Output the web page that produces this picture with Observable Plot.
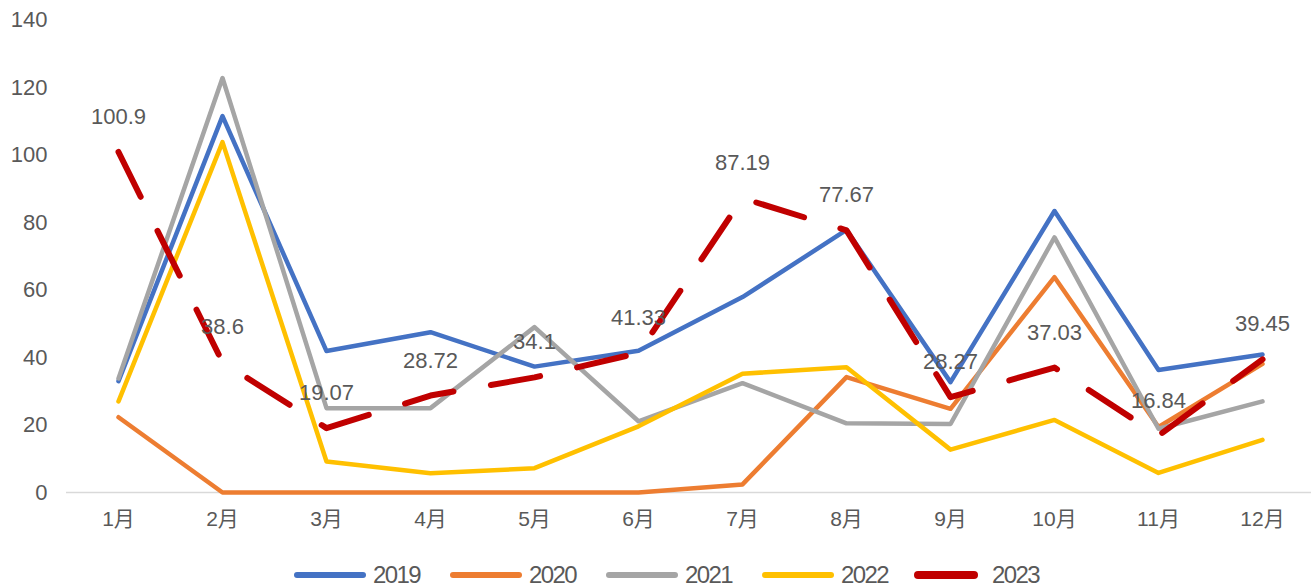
<!DOCTYPE html>
<html>
<head>
<meta charset="utf-8">
<script src="https://cdn.jsdelivr.net/npm/d3@7"></script>
<script src="https://cdn.jsdelivr.net/npm/@observablehq/plot@0.6"></script>
<style>
  html, body { margin: 0; padding: 0; background: #fff; }
  #wrap { position: relative; width: 1311px; height: 586px; font-family: "Liberation Sans", "Noto Sans CJK SC", sans-serif; }
  #legend { position: absolute; left: 294px; top: 561px; height: 28px; display: flex; align-items: center; }
  .item { display: flex; align-items: center; width: 156px; }
  .sw { width: 72px; height: 6px; border-radius: 3px; margin-right: 7px; flex: none; }
  .lt { font-family: "Liberation Sans", sans-serif; font-size: 24px; letter-spacing: -1.6px; color: #595959; line-height: 24px; white-space: nowrap; }
</style>
</head>
<body>
<div id="wrap"><div id="chart"></div><div id="legend"></div></div>
<script>
const months = ["1月","2月","3月","4月","5月","6月","7月","8月","9月","10月","11月","12月"];
const years = ["2019","2020","2021","2022","2023"];
const colors = ["#4472C4","#ED7D31","#A5A5A5","#FFC000","#C00000"];
const v2019 = [33, 111.5, 41.9, 47.5, 37.3, 42, 57.9, 77.8, 32.7, 83.4, 36.3, 40.9];
const v2020 = [22.3, 0, 0, 0, 0, 0, 2.4, 34.2, 24.8, 63.8, 19.4, 38.1];
const v2021 = [33.8, 122.8, 25, 25, 49, 21.1, 32.4, 20.5, 20.3, 75.6, 18.9, 27];
const v2022 = [27, 103.8, 9.2, 5.7, 7.2, 19.6, 35.2, 37.1, 12.7, 21.5, 5.8, 15.6];
const v2023 = [100.9, 38.6, 19.07, 28.72, 34.1, 41.33, 87.19, 77.67, 28.27, 37.03, 16.84, 39.45];
const yTicks = [0, 20, 40, 60, 80, 100, 120, 140];

const seriesVals = [v2019, v2020, v2021, v2022, v2023];
const rows = [];
years.forEach((y, i) => months.forEach((m, j) => rows.push({year: y, month: m, value: seriesVals[i][j]})));
const solid = rows.filter(d => d.year !== "2023");
const dashed = rows.filter(d => d.year === "2023");

const chart = Plot.plot({
  width: 1311,
  height: 548,
  marginLeft: 66,
  marginRight: -3,
  marginTop: 19.5,
  marginBottom: 56,
  style: {fontFamily: "'Liberation Sans', 'Noto Sans CJK SC', sans-serif", fontSize: "22px", color: "#595959", background: "#fff"},
  x: {type: "point", domain: months, padding: 0.5, label: null},
  y: {domain: [0, 140], ticks: yTicks, label: null},
  color: {domain: years, range: colors},
  marks: [
    Plot.ruleY([0], {stroke: "#d9d9d9", strokeWidth: 1.5}),
    Plot.axisY({ticks: yTicks, tickSize: 0, tickPadding: 19, fontSize: 22, fill: "#595959", label: null}),
    Plot.axisX({tickSize: 0, tickPadding: 19, fontSize: 21, fill: "#595959", label: null}),
    Plot.line(solid, {x: "month", y: "value", z: "year", stroke: "year", strokeWidth: 4.5, strokeLinejoin: "round", strokeLinecap: "round"}),
    Plot.line(dashed, {x: "month", y: "value", stroke: "year", strokeWidth: 6, strokeLinejoin: "round", strokeLinecap: "round", strokeDasharray: "50,38"}),
    Plot.text(dashed, {x: "month", y: "value", text: d => String(d.value), dy: -35, fontSize: 22, fill: "#595959"})
  ]
});
document.getElementById("chart").appendChild(chart);

const legend = document.getElementById("legend");
years.forEach((y, i) => {
  const it = document.createElement("div");
  it.className = "item";
  const sw = document.createElement("div");
  sw.className = "sw";
  sw.style.background = colors[i];
  if (y === "2022") { it.style.width = "152px"; }
  if (y === "2023") { sw.style.height = "8px"; sw.style.width = "64px"; sw.style.marginRight = "14px"; sw.style.borderRadius = "4px"; }
  const t = document.createElement("span");
  t.className = "lt";
  t.textContent = y;
  it.appendChild(sw); it.appendChild(t);
  legend.appendChild(it);
});
</script>
</body>
</html>
